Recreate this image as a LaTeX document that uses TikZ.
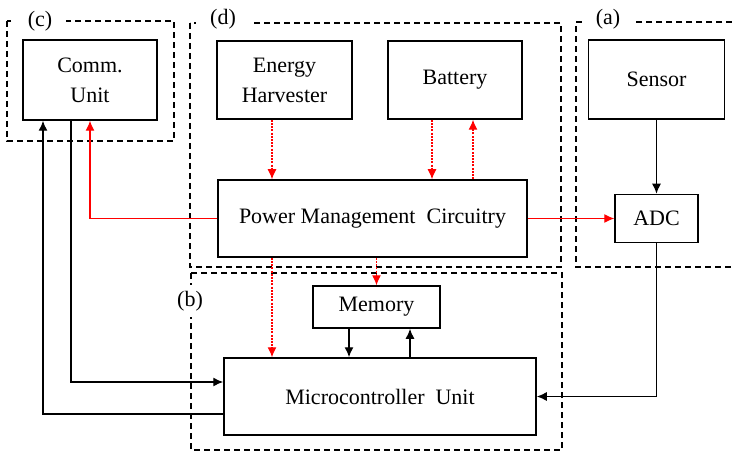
\documentclass[tikz,border=0pt]{standalone}
\usepackage{fontspec}
\setmainfont{Liberation Serif}
\usetikzlibrary{arrows.meta}
\begin{document}
\begin{tikzpicture}[
  x=0.5pt, y=-0.5pt,
  every node/.style={font=\fontsize{11}{15}\selectfont},
  every text node part/.style={align=center},
  block/.style={draw, line width=0.75pt, inner sep=0pt},
  group/.style={draw, line width=0.6pt, dash pattern=on 3pt off 2pt},
  tag/.style={fill=white, inner xsep=7pt, inner ysep=3pt},
  signal/.style={-{Latex[length=5pt,width=4.5pt]}, line width=0.7pt},
  power/.style={-{Latex[length=5pt,width=4.5pt]}, red, line width=0.6pt, dash pattern=on 1pt off 0.6pt},
  supply/.style={-{Latex[length=5pt,width=4.5pt]}, red, line width=0.6pt},
]
\useasboundingbox (0,0) rectangle (732,454);

%groups
\draw[group] (7,21) rectangle (174,141);
\draw[group] (190,23) rectangle (561,267);
\draw[group] (732,22) -| (576,267) -- (732,267);
\draw[group] (191,273) rectangle (562,450);

\node[tag] (labc) at (40,21) {(c)};
\node[tag] (labd) at (223,19) {(d)};
\node[tag] (laba) at (608,19) {(a)};
\node[tag] (labb) at (190,301) {(b)};

%blocks
\node[block, minimum width=67pt, minimum height=40pt] (comm) at (90,80) {Comm.\\Unit};
\node[block, minimum width=67.5pt, minimum height=39pt] (harv) at (284.5,80) {Energy\\Harvester};
\node[block, minimum width=67pt, minimum height=39pt] (batt) at (455,80) {Battery};
\node[block, minimum width=154.5pt, minimum height=38.5pt] (pmc) at (372.5,218.5) {Power Management~ Circuitry};
\node[block, minimum width=68pt, minimum height=39.5pt] (sensor) at (656.5,79.5) {Sensor};
\node[block, minimum width=41.5pt, minimum height=24pt] (adc) at (656.5,218.5) {ADC};
\node[block, minimum width=63.5pt, minimum height=21pt] (mem) at (376.5,307) {Memory};
\node[block, minimum width=156pt, minimum height=38.5pt] (mcu) at (380,396.5) {Microcontroller~ Unit};

%power
\draw[supply] (pmc.west) -| (comm.south);
\draw[supply] (pmc.east) -- (adc.west);
\draw[power] ([xshift=-6.25pt]harv.south) -- ([xshift=-6.25pt]harv.south |- pmc.north);
\draw[power] ([xshift=-11.5pt]batt.south) -- ([xshift=-11.5pt]batt.south |- pmc.north);
\draw[power] ([xshift=9pt]batt.south |- pmc.north) -- ([xshift=9pt]batt.south);
\draw[power] ([xshift=-50.25pt]pmc.south) -- ([xshift=-50.25pt]pmc.south |- mcu.north);
\draw[power] (pmc.south -| mem.north) -- (mem.north);

%signals
\draw[signal] (sensor.south) -- (adc.north);
\draw[signal] (adc.south) |- (mcu.east);
\draw[signal] ([xshift=-13.75pt]mem.south) -- ([xshift=-13.75pt]mem.south |- mcu.north);
\draw[signal] ([xshift=16.75pt]mem.south |- mcu.north) -- ([xshift=16.75pt]mem.south);
\draw[signal] ([xshift=-9.5pt]comm.south) |- ([yshift=7.25pt]mcu.west);
\draw[signal] ([yshift=-8.75pt]mcu.west) -| ([xshift=-23.5pt]comm.south);

\end{tikzpicture}
\end{document}
